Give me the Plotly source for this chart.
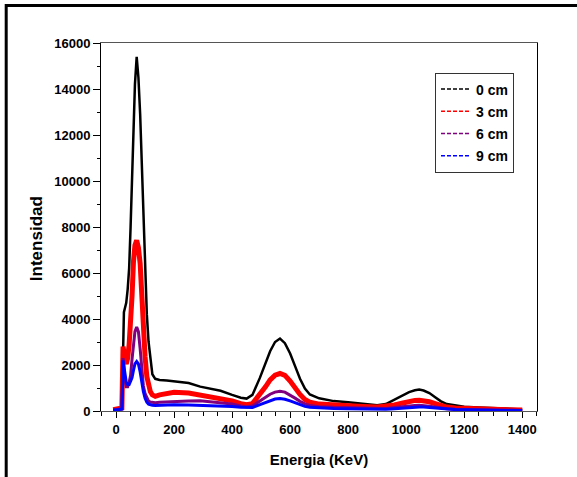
import plotly.graph_objects as go

# Energy channels (keV)
energy = [-10, 0, 10, 20, 24, 27, 31, 35, 40, 45,
          50, 55, 60, 65, 71, 77, 83, 88, 94, 100,
          106, 112, 118, 125, 135, 150, 175, 200, 250, 290,
          330, 360, 400, 430, 450, 470, 496, 515, 531, 548,
          565, 582, 600, 617, 634, 651, 668, 700, 750, 800,
          850, 900, 930, 960, 985, 1010, 1030, 1045, 1060, 1080,
          1100, 1120, 1140, 1170, 1200, 1250, 1300, 1350, 1400]

int_0cm = [50, 80, 80, 100, 2400, 4300, 4500, 4700, 5300, 6200,
           8000, 10100, 12200, 14200, 15400, 14500, 12900, 10900, 8600, 6400,
           4200, 3000, 2200, 1600, 1400, 1350, 1330, 1300, 1220, 1060,
           960, 880, 700, 580, 540, 700, 1450, 2050, 2600, 3000,
           3150, 2950, 2500, 1950, 1400, 980, 720, 550, 430, 380,
           320, 250, 300, 500, 680, 820, 900, 930, 890, 780,
           600, 420, 300, 230, 190, 150, 120, 90, 70]

int_3cm = [60, 80, 100, 130, 2800, 2400, 2200, 2050, 2300, 2900,
           3700, 5000, 6500, 7200, 7420, 7100, 6400, 5000, 3500, 2350,
           1500, 1050, 850, 700, 640, 700, 780, 810, 780, 690,
           620, 560, 440, 320, 270, 320, 720, 1050, 1350, 1560,
           1630, 1550, 1300, 1000, 720, 500, 380, 300, 250, 220,
           200, 170, 190, 260, 340, 420, 460, 470, 450, 400,
           320, 230, 170, 130, 110, 80, 65, 50, 40]

int_6cm = [40, 60, 80, 100, 2300, 1800, 1300, 1050, 1050, 1250,
           1550, 2250, 2950, 3450, 3650, 3450, 2700, 1850, 1100, 750,
           550, 430, 390, 370, 360, 380, 400, 420, 440, 450,
           400, 360, 300, 220, 190, 220, 430, 600, 730, 820,
           860, 820, 700, 560, 420, 310, 240, 190, 160, 140,
           120, 100, 110, 150, 190, 220, 240, 250, 240, 210,
           170, 130, 100, 80, 65, 50, 40, 30, 25]

int_9cm = [30, 50, 60, 80, 2200, 1900, 1500, 1250, 1150, 1150,
           1300, 1450, 1770, 2050, 2150, 2050, 1700, 1250, 850, 550,
           380, 300, 270, 250, 240, 250, 260, 270, 260, 250,
           240, 220, 200, 160, 140, 150, 280, 380, 460, 520,
           540, 510, 440, 350, 270, 200, 160, 130, 110, 95,
           85, 70, 75, 100, 130, 155, 170, 175, 170, 150,
           120, 95, 75, 60, 50, 40, 30, 25, 20]

series_names = ["0 cm", "3 cm", "6 cm", "9 cm"]
series_values = [int_0cm, int_3cm, int_6cm, int_9cm]
colors = ["#000000", "#ff0000", "#800080", "#0000ff"]
widths = [2.5, 5, 3, 3]

FONT = "Liberation Sans, Arial, sans-serif"

fig = go.Figure()
for name, vals, c, w in zip(series_names, series_values, colors, widths):
    fig.add_trace(go.Scatter(x=energy, y=vals, mode="lines", name=name,
                             line=dict(color=c, width=w), showlegend=False))
# legend entries (dashed samples)
for i, (name, c) in enumerate(zip(series_names, colors)):
    fig.add_trace(go.Scatter(x=[None], y=[None], mode="lines", name=name,
                             legendgroup=f"g{i}",
                             line=dict(color=c, width=1.5, dash="4px,2px")))

W, H = 577, 477
L, R, T, B = 101, 537, 43, 410.7

def px(xp):
    return (xp - L) / (R - L)

def py(yp):
    return (B - yp) / (B - T)

fig.update_layout(
    width=W, height=H,
    margin=dict(l=L, r=W - R, t=T, b=H - B),
    paper_bgcolor="white", plot_bgcolor="white",
    font=dict(family=FONT, color="black"),
    showlegend=True,
    legend=dict(x=px(435), y=py(72.5), xanchor="left", yanchor="top",
                bordercolor="#333333", borderwidth=1, bgcolor="white",
                font=dict(family=FONT, size=14, weight="bold"),
                tracegroupgap=1, itemwidth=30),
    xaxis=dict(range=[-52, 1451], tick0=0, dtick=200, tickformat="d",
               showgrid=False, zeroline=False,
               showline=True, linecolor="#555555", linewidth=1, mirror=True,
               ticks="outside", ticklen=6, tickcolor="black", tickwidth=1,
               tickfont=dict(family=FONT, size=13, weight="bold"),
               minor=dict(dtick=50, ticks="outside", ticklen=4, tickcolor="black"),
               title=dict(text="Energia (KeV)", standoff=18,
                          font=dict(family=FONT, size=15, weight="bold"))),
    yaxis=dict(range=[0, 16000], tick0=0, dtick=2000, tickformat="d",
               showgrid=False, zeroline=False,
               showline=True, linecolor="black", linewidth=1, mirror=True,
               ticks="outside", ticklen=7, tickcolor="black", tickwidth=1,
               tickfont=dict(family=FONT, size=13, weight="bold"),
               minor=dict(dtick=1000, ticks="outside", ticklen=3, tickcolor="black")),
    annotations=[dict(text="Intensidad", textangle=-90, xref="paper", yref="paper",
                      x=px(36), y=py(239), xanchor="center", yanchor="middle",
                      showarrow=False,
                      font=dict(family=FONT, size=17, weight="bold"))],
    shapes=[
        dict(type="rect", xref="paper", yref="paper",
             x0=px(6.2), x1=px(700), y0=py(5.5), y1=py(700),
             line=dict(color="black", width=3), fillcolor="rgba(0,0,0,0)",
             layer="above"),
    ],
)

fig.write_html("out.html", config={"displayModeBar": False},
               post_script="document.body.style.margin='0';document.body.style.overflow='hidden';")
